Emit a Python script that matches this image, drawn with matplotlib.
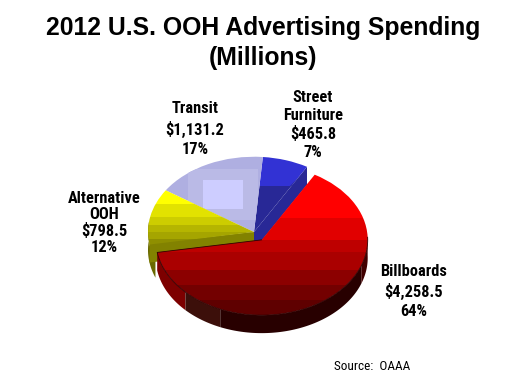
import numpy as np
import matplotlib
matplotlib.use("Agg")
import matplotlib.pyplot as plt
from matplotlib.transforms import Affine2D
from matplotlib.patches import Polygon, Rectangle

categories = ["Street\nFurniture", "Transit", "Alternative\nOOH", "Billboards"]
spending = [465.8, 1131.2, 798.5, 4258.5]
amounts = ["$465.8", "$1,131.2", "$798.5", "$4,258.5"]
shares = ["7%", "17%", "12%", "64%"]
title = "2012 U.S. OOH Advertising Spending\n(Millions)"
source = "Source:  OAAA"

W, H = 524, 383
fig = plt.figure(figsize=(W/100, H/100), dpi=100, facecolor="white")
ax = fig.add_axes([0, 0, 1, 1])
SQ = 0.71
CX, CY = 254, H-232
R = 106
DEPTH = 18

wedges, _ = ax.pie(spending, startangle=60, counterclock=True, radius=R,
                   explode=[0, 0, 0, 13.5], wedgeprops=dict(linewidth=0))
ax.set_aspect("auto")
tf = Affine2D().scale(1, SQ).translate(CX, CY) + ax.transData

def rgb(c):
    return np.array(c)/255

def to_px(wedge, t_deg, r=None):
    c = np.array(wedge.center)
    t = np.radians(t_deg)
    r = wedge.r if r is None else r
    pts = tf.transform(np.c_[c[0] + r*np.cos(t), c[1] + r*np.sin(t)])
    return ax.transData.inverted().transform(pts)

def bands(wedge, rows, z):
    for i, (top, col) in enumerate(rows):
        bot = rows[i+1][0] if i+1 < len(rows) else H
        r = Rectangle((0, H-bot), W, bot-top, fc=rgb(col), ec="none", zorder=z)
        ax.add_patch(r)
        r.set_clip_path(wedge.get_path(), wedge.get_patch_transform()+tf)

def side(wedge, a0, a1, color, z):
    pts = to_px(wedge, np.linspace(a0, a1, 80))
    ax.add_patch(Polygon(np.r_[pts, (pts - [0, DEPTH])[::-1]], fc=rgb(color), ec="none", zorder=z))

def radial(wedge, a, color, z):
    o = to_px(wedge, np.array([a]), 0)
    e = to_px(wedge, np.array([a]))
    pts = np.r_[o, e, e - [0, DEPTH], o - [0, DEPTH]]
    ax.add_patch(Polygon(pts, fc=rgb(color), ec="none", zorder=z))

def sector(wedge, a0, a1, color, z):
    o = to_px(wedge, np.array([a0]), 0)
    arc = to_px(wedge, np.linspace(a0, a1, 30))
    ax.add_patch(Polygon(np.r_[o, arc], fc=rgb(color), ec="none", zorder=z))

for w in wedges:
    w.set_facecolor("none")
    w.set_transform(tf)
street, transit, alt, bill = wedges

# blue slice
radial(street, street.theta1, (40, 40, 150), 2)
bands(street, [(150, (50, 50, 212)), (186, (40, 40, 150))], 3)
tri = Polygon([(290, H-186), (308, H-168), (312, H-186)], fc=rgb((40, 40, 150)), ec="none", zorder=3.1)
ax.add_patch(tri)
tri.set_clip_path(street.get_path(), street.get_patch_transform()+tf)

# transit slice
for col, (xa, xb, ya, yb) in zip([(175, 175, 225), (186, 186, 230), (205, 205, 255)],
                                 [(130, 380, 130, 250), (188, 258, 169, 220), (203, 243, 180, 209)]):
    r = Rectangle((xa, H-yb), xb-xa, yb-ya, fc=rgb(col), ec="none", zorder=3)
    ax.add_patch(r)
    r.set_clip_path(transit.get_path(), transit.get_patch_transform()+tf)

# yellow slice
sector(alt, alt.theta2-1, alt.theta2+12, (130, 130, 0), 2.2)
radial(alt, alt.theta2, (130, 130, 0), 2.2)
side(alt, 172, alt.theta2+12, (105, 105, 0), 2)
bands(alt, [(150, (255, 255, 0)), (204, (226, 226, 0)), (217, (205, 205, 0)),
            (225, (181, 181, 0)), (232, (165, 165, 0)), (239, (143, 143, 0))], 3)

# red slice
side(bill, bill.theta1, 224, (125, 0, 0), 4)
side(bill, 224, 247, (60, 15, 10), 4.1)
side(bill, 247, 340, (40, 0, 0), 4.2)
side(bill, 340, 362, (65, 0, 0), 4.3)
bands(bill, [(170, (255, 0, 0)), (218, (225, 0, 0)), (240, (190, 0, 0)), (252, (170, 0, 0)),
             (270, (140, 0, 0)), (285, (115, 0, 0)), (300, (95, 0, 0))], 5)
rim = np.r_[to_px(bill, np.array([bill.theta1]), 0), to_px(bill, np.linspace(bill.theta1, 362, 120))]
ax.plot(rim[:, 0], rim[:, 1], color="#300000", lw=0.6, zorder=6)

ax.set_xlim(0, W); ax.set_ylim(0, H); ax.axis("off")

fam = ["Roboto Condensed", "Liberation Sans"]
ax.text(263, H-43, title, ha="center", va="center", fontsize=17.8, fontweight="bold",
        family="Liberation Sans", linespacing=1.3)
lab = dict(ha="center", va="center", fontsize=11.8, fontweight="bold", family=fam)
ax.text(195, H-129, f"{categories[1]}\n{amounts[1]}\n{shares[1]}", linespacing=1.37, **lab)
ax.text(313, H-125, f"{categories[0]}\n{amounts[0]}\n{shares[0]}", linespacing=1.22, **lab)
ax.text(104, H-223, f"{categories[2]}\n{amounts[2]}\n{shares[2]}", linespacing=1.09, **lab)
ax.text(414, H-291.5, f"{categories[3]}\n{amounts[3]}\n{shares[3]}", linespacing=1.34, **lab)
ax.text(372.5, H-366, source, ha="center", va="center", fontsize=9.5, family=fam)
fig.savefig("out.png", dpi=100)
